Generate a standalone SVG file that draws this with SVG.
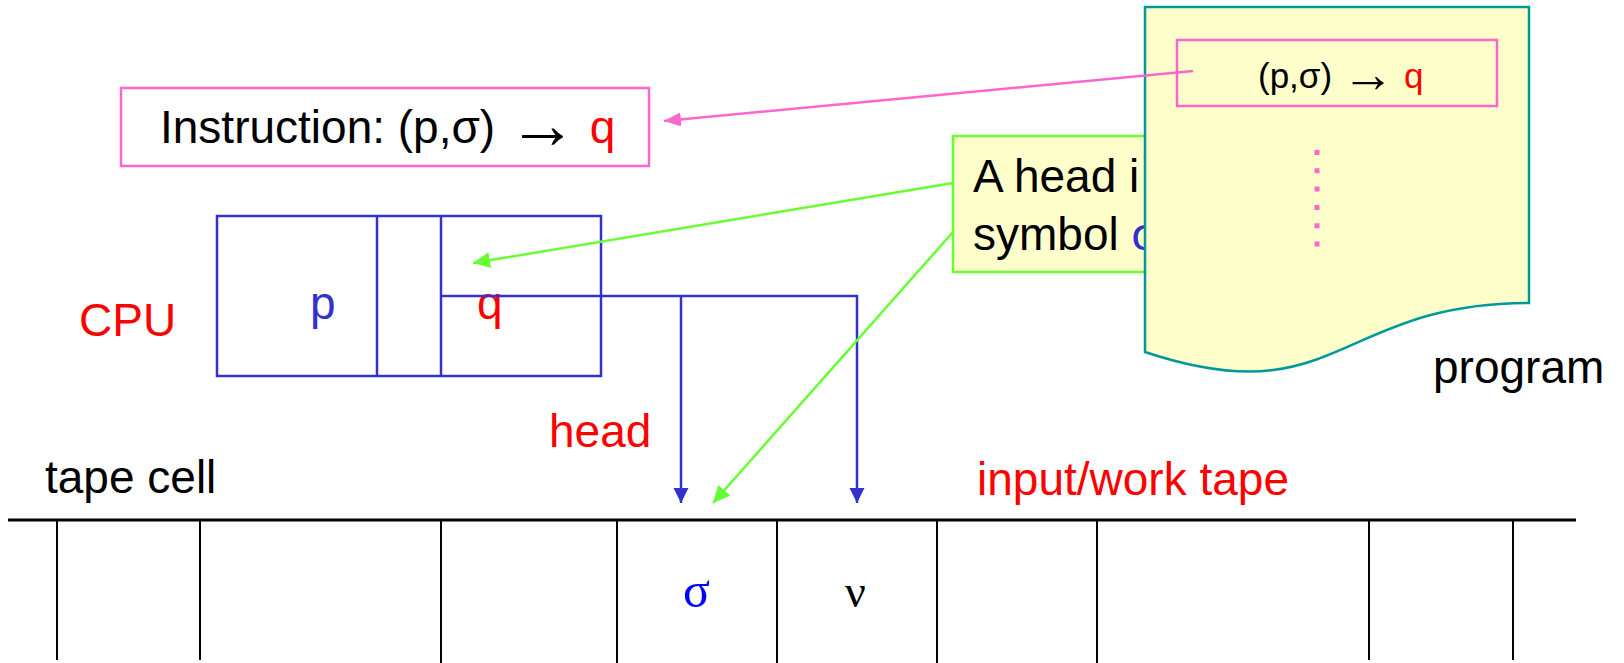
<svg xmlns="http://www.w3.org/2000/svg" width="1624" height="663" viewBox="0 0 1624 663">
<style>
.t{font-family:"Liberation Sans",Arial,sans-serif;font-size:46px;fill:#000}
.s{font-family:"Liberation Serif","Times New Roman",serif;font-size:46px}
.arr{font-size:1.5em}
.red{fill:#FF0000}
.blue{fill:#3333CC}
.cpu{fill:none;stroke:#3333CC;stroke-width:2.5}
.tape{stroke:#000;stroke-width:2}
</style>
<defs>
<marker id="ab" markerUnits="userSpaceOnUse" markerWidth="16" markerHeight="16" refX="15" refY="7.5" orient="auto"><path d="M0,0 L15,7.5 L0,15 z" fill="#3333CC"/></marker>
<marker id="ag" markerUnits="userSpaceOnUse" markerWidth="18" markerHeight="18" refX="17" refY="8" orient="auto"><path d="M0,0 L17,8 L0,16 z" fill="#66FF33"/></marker>
<marker id="ap" markerUnits="userSpaceOnUse" markerWidth="18" markerHeight="18" refX="17" refY="7" orient="auto"><path d="M0,0 L17,7 L0,14 z" fill="#FF66CC"/></marker>
</defs>
<rect width="1624" height="663" fill="#fff"/>

<g id="instruction">
<rect x="121" y="88" width="528" height="78" fill="#fff" stroke="#FF66CC" stroke-width="2.5"/>
<text class="t" x="160" y="143">Instruction: (p,σ) <tspan class="arr" dy="5">→</tspan><tspan dy="-5"> </tspan><tspan class="red">q</tspan></text>
</g>

<g id="note">
<rect x="953" y="136" width="260" height="136" fill="#FFFFCC" stroke="#66FF33" stroke-width="2.5"/>
<text class="t" x="973" y="192">A head i</text>
<text class="t" x="973" y="250">symbol <tspan fill="#3333CC">σ</tspan></text>
</g>

<g id="program">
<path d="M1145,7 L1529,7 L1529,303 C1337,303 1337,416 1145,352 Z" fill="#FFFFCC" stroke="#009999" stroke-width="2.5"/>
<rect x="1177" y="40" width="320" height="66" fill="none" stroke="#FF66CC" stroke-width="2.5"/>
<text class="t" x="1258" y="88" style="font-size:35px">(p,σ) <tspan class="arr" dy="4">→</tspan><tspan dy="-4"> </tspan><tspan class="red">q</tspan></text>
<line x1="1317" y1="150" x2="1317" y2="248" stroke="#FF66CC" stroke-width="5" stroke-dasharray="5 13.3"/>
<text class="t" x="1433" y="383">program</text>
</g>

<g id="cpu">
<rect class="cpu" x="217" y="216" width="384" height="160"/>
<line class="cpu" x1="377" y1="216" x2="377" y2="376"/>
<line class="cpu" x1="441" y1="216" x2="441" y2="376"/>
<text class="t blue" x="310" y="319">p</text>
<text class="t red" x="477" y="319">q</text>
<text class="t red" x="79" y="336">CPU</text>
</g>

<g id="tape">
<line x1="8" y1="520" x2="1576" y2="520" stroke="#000" stroke-width="3"/>
<line class="tape" x1="57" y1="520" x2="57" y2="660"/>
<line class="tape" x1="200" y1="520" x2="200" y2="660"/>
<line class="tape" x1="441" y1="520" x2="441" y2="663"/>
<line class="tape" x1="617" y1="520" x2="617" y2="663"/>
<line class="tape" x1="777" y1="520" x2="777" y2="663"/>
<line class="tape" x1="937" y1="520" x2="937" y2="663"/>
<line class="tape" x1="1097" y1="520" x2="1097" y2="663"/>
<line class="tape" x1="1369" y1="520" x2="1369" y2="660"/>
<line class="tape" x1="1513" y1="520" x2="1513" y2="660"/>
<text class="s" x="683" y="607" fill="#0000FF" style="font-size:50px">σ</text>
<text class="s" x="845" y="607" fill="#000">ν</text>
<text class="t" x="45" y="493">tape cell</text>
<text class="t red" x="977" y="495">input/work tape</text>
<text class="t red" x="549" y="447">head</text>
</g>

<g id="connectors" fill="none">
<polyline points="441,296 857,296 857,503" stroke="#3333CC" stroke-width="2.5" marker-end="url(#ab)"/>
<line x1="681" y1="296" x2="681" y2="503" stroke="#3333CC" stroke-width="2.5" marker-end="url(#ab)"/>
<line x1="953" y1="183" x2="473" y2="263" stroke="#66FF33" stroke-width="2.5" marker-end="url(#ag)"/>
<line x1="953" y1="232" x2="713" y2="503" stroke="#66FF33" stroke-width="2.5" marker-end="url(#ag)"/>
<line x1="1193" y1="71" x2="664" y2="121" stroke="#FF66CC" stroke-width="2.5" marker-end="url(#ap)"/>
</g>
</svg>
